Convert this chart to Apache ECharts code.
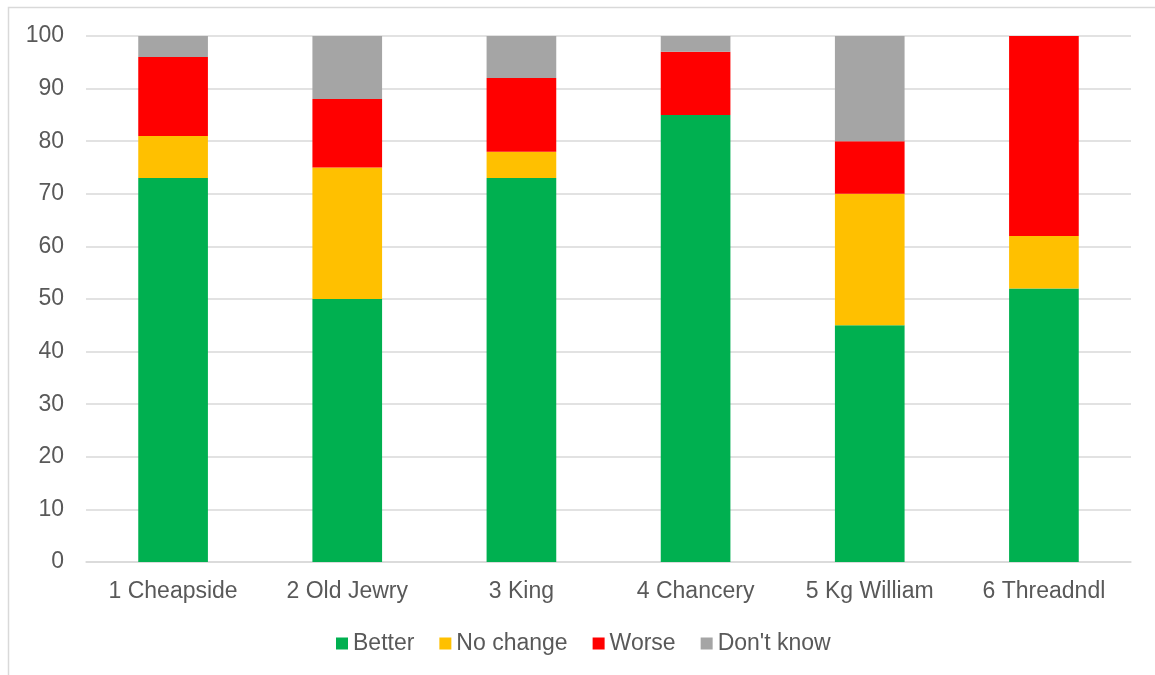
<!DOCTYPE html>
<html><head><meta charset="utf-8">
<script src="https://cdn.jsdelivr.net/npm/echarts@6/dist/echarts.min.js"></script>
<style>html,body{margin:0;padding:0;background:#fff}#c{width:1155px;height:675px}</style>
</head><body><div id="c"></div>
<script>
const categories = ['1 Cheapside','2 Old Jewry','3 King','4 Chancery','5 Kg William','6 Threadndl'];
const better   = [73, 50, 73, 85, 45, 52];
const noChange = [8, 25, 5, 0, 25, 10];
const worse    = [15, 13, 14, 12, 10, 38];
const dontKnow = [4, 12, 8, 3, 20, 0];
const seriesNames = ['Better','No change','Worse',"Don't know"];
const colors = ['#00B050','#FFC000','#FF0000','#A5A5A5'];
const yTicks = {min:0, max:100, interval:10};

const chart = echarts.init(document.getElementById('c'), null, {renderer:'canvas'});
const font = '"Liberation Sans", Arial, sans-serif';
const dataSets = [better, noChange, worse, dontKnow];
chart.setOption({
  animation:false,
  textStyle:{fontFamily:font},
  graphic:[{type:'rect', shape:{x:8.5,y:7.5,width:1200,height:700}, style:{fill:'none',stroke:'#D9D9D9',lineWidth:1.5}, z:-1}],
  grid:{left:86,right:24,top:36,bottom:113},
  legend:{
    data:seriesNames, left:331, top:627, itemWidth:12, itemHeight:12, itemGap:25,
    icon:'rect',
    textStyle:{color:'#595959',fontSize:23,fontFamily:font}
  },
  xAxis:{
    type:'category', data:categories,
    axisLine:{lineStyle:{color:'#D9D9D9',width:1.5}},
    axisTick:{show:false},
    axisLabel:{color:'#595959',fontSize:23,fontFamily:font,margin:18}
  },
  yAxis:{
    type:'value', min:yTicks.min, max:yTicks.max, interval:yTicks.interval,
    axisLine:{show:false}, axisTick:{show:false},
    splitLine:{lineStyle:{color:'#D9D9D9',width:1.5}},
    axisLabel:{color:'#595959',fontSize:23,fontFamily:font,margin:22}
  },
  series: seriesNames.map((n,i)=>({
    name:n, type:'bar', stack:'total', data:dataSets[i], barWidth:'40%',
    itemStyle:{color:colors[i]}
  }))
});
</script></body></html>
